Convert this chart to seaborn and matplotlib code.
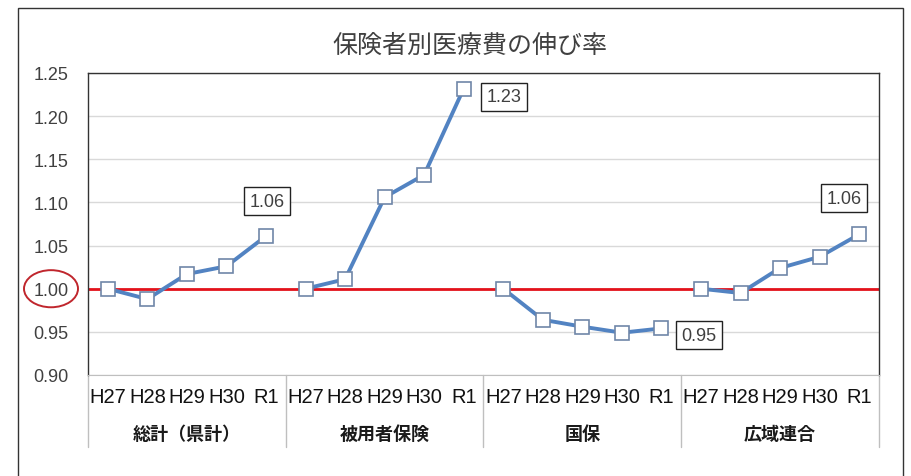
import matplotlib
matplotlib.use("Agg")
import matplotlib.pyplot as plt
import matplotlib.patches as patches
import matplotlib.transforms as mtransforms
import pandas as pd
import seaborn as sns

# data
groups = ["総計（県計）", "被用者保険", "国保", "広域連合"]
years = ["H27", "H28", "H29", "H30", "R1"]
total = [1.00, 0.988, 1.017, 1.026, 1.061]
employee = [1.00, 1.011, 1.106, 1.132, 1.232]
kokuho = [1.00, 0.964, 0.956, 0.949, 0.954]
koiki = [1.00, 0.995, 1.024, 1.037, 1.063]
last_labels = ["1.06", "1.23", "0.95", "1.06"]

series = [total, employee, kokuho, koiki]
rows = []
for gi, (g, vals) in enumerate(zip(groups, series)):
    for yi, (yr, v) in enumerate(zip(years, vals)):
        rows.append({"pos": gi * len(years) + yi, "group": g, "year": yr, "value": v})
df = pd.DataFrame(rows)

sns.set_style("white")
plt.rcParams["font.family"] = ["Liberation Sans", "Noto Sans CJK JP", "DejaVu Sans"]

blue = "#5283C2"
edge = "#6F86A8"
txt = "#404040"
jp = ["Noto Sans CJK JP", "DejaVu Sans"]
narrow = ["Liberation Sans Narrow", "DejaVu Sans Condensed", "Liberation Sans"]

fig = plt.figure(figsize=(9.12, 4.77), dpi=100)
ax = fig.add_axes([88 / 912, 1 - 376 / 477, (879 - 88) / 912, (376 - 74) / 477])

# grid + reference line
ax.set_ylim(0.90, 1.25)
ax.set_xlim(-0.5, len(df) - 0.5)
ax.set_yticks([0.90, 0.95, 1.00, 1.05, 1.10, 1.15, 1.20, 1.25])
ax.set_yticklabels(["0.90", "0.95", "1.00", "1.05", "1.10", "1.15", "1.20", "1.25"])
ax.grid(axis="y", color="#D9D9D9", lw=1)
ax.set_axisbelow(True)
ax.axhline(1.0, color="#E3121B", lw=2, zorder=2)

sns.lineplot(data=df, x="pos", y="value", hue="group", palette=[blue] * 4,
             marker="s", markersize=10.5, markerfacecolor="white",
             markeredgecolor=edge, markeredgewidth=1.2, lw=2.8,
             legend=False, ax=ax, zorder=3)

# spines
for s in ["left", "top", "right"]:
    ax.spines[s].set_color("#333333")
    ax.spines[s].set_linewidth(1)
ax.spines["bottom"].set_color("#BFBFBF")

ax.tick_params(axis="y", length=0, pad=14, labelsize=13, labelcolor=txt)
ax.set_xticks(df["pos"])
ax.set_xticklabels(df["year"])
for lab in ax.get_xticklabels():
    lab.set_family(narrow)
ax.tick_params(axis="x", length=0, pad=9, labelsize=14.5, labelcolor="#111111")
ax.set_xlabel("")
ax.set_ylabel("")

# category separators and group names under the axis
trans = mtransforms.blended_transform_factory(ax.transData, ax.transAxes)
n = len(years)
for gi in range(len(groups) + 1):
    ax.plot([gi * n - 0.5] * 2, [0, -0.24], color="#BFBFBF", lw=1,
            transform=trans, clip_on=False)
for gi, g in enumerate(groups):
    ax.text(gi * n + (n - 1) / 2, -0.195, g, transform=trans, ha="center",
            va="center", fontsize=13, fontweight="bold", family=jp, color="#1A1A1A")

# value labels on the last point of each group
offsets = [(1, 25), (29, -6), (27, -5), (-11, 26)]
for gi, (vals, lab, off) in enumerate(zip(series, last_labels, offsets)):
    ax.annotate(lab, xy=(gi * n + n - 1, vals[-1]), xytext=off,
                textcoords="offset points", ha="center", va="center",
                fontsize=13, color=txt, zorder=5,
                bbox=dict(boxstyle="square,pad=0.3", fc="white", ec="#222222", lw=1))

# red circle around 1.00
etrans = mtransforms.blended_transform_factory(fig.transFigure, ax.transData)
ax.add_patch(patches.Ellipse((51 / 912, 1.0), 54 / 912, 0.043, transform=etrans,
                             fill=False, ec="#C0262D", lw=1.4, clip_on=False))

fig.text(470 / 912, 1 - 46 / 477, "保険者別医療費の伸び率", ha="center", va="center",
         fontsize=18, family=jp, color=txt)

# outer chart frame
fig.patches.append(patches.Rectangle((18 / 912, -0.05), (903 - 18) / 912, 1.05 - 9 / 477,
                                     transform=fig.transFigure, fill=False,
                                     ec="#333333", lw=1))

fig.savefig("out.png", dpi=100)
